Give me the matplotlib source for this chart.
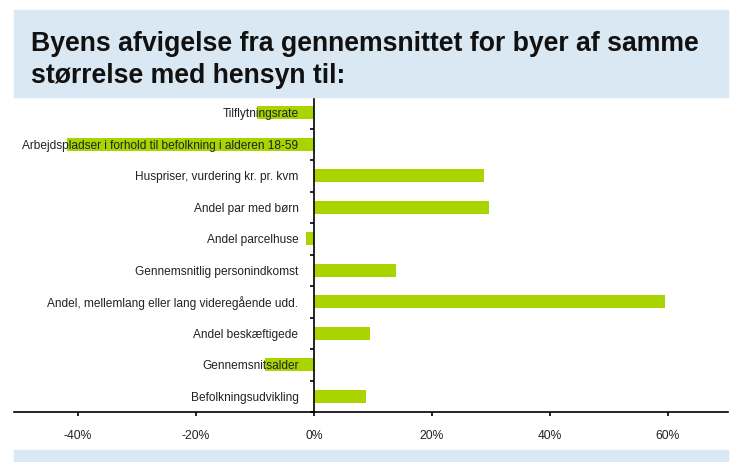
import matplotlib.pyplot as plt
import numpy as np
from matplotlib import rcParams
from matplotlib.patches import Rectangle
from matplotlib.ticker import FuncFormatter

rcParams.update({'font.family': ['Liberation Sans', 'DejaVu Sans']})

# Indicators, listed top to bottom
labels = [
    'Tilflytningsrate',
    'Arbejdspladser i forhold til befolkning i alderen 18-59',
    'Huspriser, vurdering kr. pr. kvm',
    'Andel par med børn',
    'Andel parcelhuse',
    'Gennemsnitlig personindkomst',
    'Andel, mellemlang eller lang videregående udd.',
    'Andel beskæftigede',
    'Gennemsnitsalder',
    'Befolkningsudvikling',
]
# Deviation from the average of same-size towns (%)
values = [-9.7, -41.9, 28.8, 29.7, -1.4, 13.9, 59.5, 9.5, -8.3, 8.8]
xticks = [-40, -20, 0, 20, 40, 60]

title_lines = ['Byens afvigelse fra gennemsnittet for byer af samme',
               'størrelse med hensyn til:']
band_color = '#dae8f3'
bar_color = '#aad400'

W, H = 746, 462
fig = plt.figure(figsize=(W / 100, H / 100), dpi=100)

# light blue header and footer bands
fig.patches.append(Rectangle((14 / W, 1 - 97 / H), 714 / W, 87 / H,
                             transform=fig.transFigure, color=band_color, zorder=0))
fig.patches.append(Rectangle((14 / W, 0), 714 / W, 12 / H,
                             transform=fig.transFigure, color=band_color, zorder=0))
for i, line in enumerate(title_lines):
    fig.text(31 / W, 1 - (50.7 + 32 * i) / H, line, ha='left', va='baseline',
             fontsize=19.2, fontweight='bold', color='#111111')

ax = fig.add_axes([14 / W, 1 - 412 / H, 714 / W, 315 / H])
y = np.arange(len(labels))
ax.barh(y, values, height=0.4, color=bar_color, zorder=1)
ax.set_ylim(len(labels) - 0.5, -0.5)
ax.set_xlim(-50.8, 70.2)

ax.spines['top'].set_visible(False)
ax.spines['right'].set_visible(False)
ax.spines['left'].set_position(('data', 0))
ax.spines['left'].set_linewidth(1.2)
ax.spines['bottom'].set_linewidth(1.2)

ax.set_yticks(y)
ax.set_yticklabels(labels)
ax.set_yticks(np.arange(len(labels) + 1) - 0.5, minor=True)
ax.tick_params(axis='y', which='major', length=0, pad=11, labelsize=8.6, colors='#222222')
ax.tick_params(axis='y', which='minor', length=3, width=1.2, direction='out')

ax.set_xticks(xticks)
ax.xaxis.set_major_formatter(FuncFormatter(lambda v, p: '%d%%' % v))
ax.tick_params(axis='x', length=3, width=1.2, direction='out', pad=10, labelsize=8.7,
               labelcolor='#222222')

fig.savefig('out.png', dpi=100)
